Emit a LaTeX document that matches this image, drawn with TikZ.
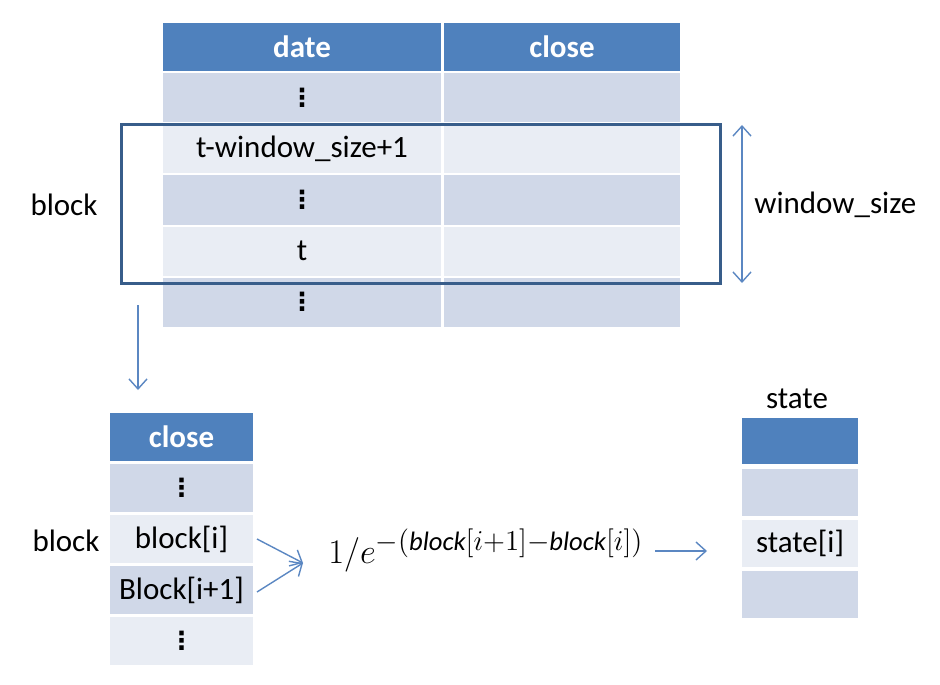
\documentclass[tikz,border=0pt]{standalone}
\usepackage{fontspec}
\setmainfont{Carlito}
\newfontfamily\symfont{DejaVu Sans}
\usetikzlibrary{arrows.meta}

\definecolor{headblue}{HTML}{4F81BD}
\definecolor{rowdark}{HTML}{D0D8E8}
\definecolor{rowlight}{HTML}{E9EDF4}
\definecolor{framenavy}{HTML}{385D8A}
\definecolor{arrowblue}{HTML}{5B87C2}

% one vertical ellipsis glyph for the elided rows
\newcommand{\celldots}{{\symfont\bfseries\fontsize{12.5}{14}\selectfont ⋮}}

\begin{document}
\begin{tikzpicture}[
  x=0.5pt, y=-0.5pt,
  every node/.style={font=\fontsize{15.5}{18}\selectfont},
  cell/.style={inner sep=0pt, outer sep=0pt},
  head/.style={cell, fill=headblue, text=white, font=\fontsize{15.5}{18}\selectfont\bfseries},
  dark/.style={cell, fill=rowdark},
  light/.style={cell, fill=rowlight},
  window/.style={framenavy, line width=1.5pt},
  link/.style={arrowblue, line width=0.7pt, -{Straight Barb[length=5pt, width=9pt]}},
  label/.style={inner sep=0pt}
]
  \useasboundingbox (0,0) rectangle (940,684);

  % Upper table: date / close
  \node[head, minimum width=139pt, minimum height=24pt] (date0) at (302,47) {date};
  \node[head, minimum width=118pt, minimum height=24pt] (close0) at (562,47) {close};
  \foreach \i/\txt/\shade in {1/\celldots/dark, 2/t-window\_size+1/light, 3/\celldots/dark,
                              4/t/light, 5/\celldots/dark} {
    \node[\shade, minimum width=139pt, minimum height=24.5pt] (date\i) at (302,47+51*\i) {\txt};
    \node[\shade, minimum width=118pt, minimum height=24.5pt] (close\i) at (562,47+51*\i) {};
  }

  % Window frame around rows t-window_size+1 .. t
  \coordinate (winNW) at (121,125);
  \coordinate (winSE) at (720,283);
  \draw[window] (winNW) rectangle (winSE);
  \node[label] (blockTop) at (64,205) {block};

  % Window size span
  \coordinate (spanTop) at (742,125);
  \coordinate (spanBot) at (742,283);
  \draw[arrowblue, line width=0.7pt, {Straight Barb[length=5pt, width=9pt]}-{Straight Barb[length=5pt, width=9pt]}]
    (spanTop) -- (spanBot);
  \node[label, anchor=west] (winsize) at (754,205) {window\_size};

  % Take the block down
  \coordinate (downS) at (138,305);
  \coordinate (downE) at (138,390);
  \draw[link] (downS) -- (downE);

  % Lower left: close column of the block
  \node[head, minimum width=71.5pt, minimum height=24pt] (blk0) at (181.5,437) {close};
  \foreach \i/\txt/\shade in {1/\celldots/dark, 2/block[i]/light, 3/Block[i+1]/dark, 4/\celldots/light} {
    \node[\shade, minimum width=71.5pt, minimum height=24pt] (blk\i) at (181.5,437+51*\i) {\txt};
  }
  \node[label] (blockBot) at (66,541) {block};

  % Formula
  \coordinate (meet) at (303,563);
  \draw[link] ([xshift=2pt]blk2.east) -- (meet);
  \draw[link] ([xshift=2pt, yshift=-1pt]blk3.east) -- (meet);
  \node[label, anchor=base west, font=\fontsize{19}{22}\selectfont] (formula) at (328,563)
    {$1/e^{-(\mathit{block}[i+1]-\mathit{block}[i])}$};

  % Lower right: state column
  \node[label] (stateLbl) at (797,399) {state};
  \node[head, minimum width=58pt, minimum height=23pt] (st0) at (800,441) {};
  \foreach \i/\txt/\shade in {1/{}/dark, 2/state[i]/light, 3/{}/dark} {
    \node[\shade, minimum width=58pt, minimum height=23.5pt] (st\i) at (800,441+51*\i) {\txt};
  }
  \coordinate (toS) at (655,551);
  \coordinate (toE) at (707,551);
  \draw[link] (toS) -- (toE);

\end{tikzpicture}
\end{document}
